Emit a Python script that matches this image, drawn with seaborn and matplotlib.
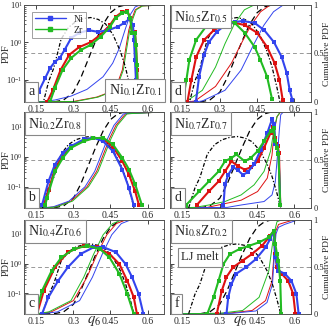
import matplotlib
matplotlib.use("Agg")
import matplotlib.pyplot as plt
import seaborn as sns
from matplotlib.lines import Line2D
from matplotlib.ticker import FixedLocator, FixedFormatter, MultipleLocator, LogLocator, NullFormatter

sns.set_style("ticks")
plt.rcParams['font.family'] = ['Liberation Serif', 'DejaVu Serif']
plt.rcParams['mathtext.fontset'] = 'stix'

BLUE = '#3344ee'
GREEN = '#22bb22'
RED = '#dd1111'

# LJ melt reference (same in every panel)
lj_q = [0.175, 0.2, 0.22, 0.25, 0.28, 0.31, 0.34, 0.37, 0.4, 0.43, 0.46, 0.49, 0.51, 0.53, 0.545]
lj_pdf = [0.02, 0.09, 0.2, 1.2, 2.5, 3.6, 4.3, 4.6, 4.1, 3.1, 1.6, 0.57, 0.22, 0.06, 0.02]
lj_cq = [0.1, 0.22, 0.26, 0.3, 0.33, 0.36, 0.39, 0.42, 0.45, 0.48, 0.51, 0.67]
lj_cdf = [0, 0, 0.02, 0.1, 0.25, 0.44, 0.63, 0.8, 0.92, 0.98, 1.0, 1.0]

# panel a
a_ni_q = [0.139, 0.159, 0.186, 0.205, 0.225, 0.245, 0.264, 0.291, 0.323, 0.362, 0.40, 0.44, 0.479, 0.506, 0.526, 0.541, 0.545, 0.549, 0.553, 0.557]
a_ni_pdf = [0.025, 0.047, 0.11, 0.2, 0.3, 0.38, 0.62, 1.3, 1.78, 2.1, 1.9, 2.1, 2.6, 3.3, 4.2, 2.9, 1.15, 0.34, 0.098, 0.028]
a_zr_q = [0.205, 0.225, 0.256, 0.291, 0.33, 0.37, 0.41, 0.448, 0.471, 0.498, 0.518, 0.530, 0.537, 0.549, 0.553, 0.557, 0.561]
a_zr_pdf = [0.025, 0.059, 0.18, 0.38, 0.62, 0.85, 1.4, 2.6, 4.5, 6.1, 6.5, 4.5, 1.8, 1.8, 0.85, 0.25, 0.028]
a_tot_q = [0.194, 0.217, 0.248, 0.283, 0.323, 0.37, 0.41, 0.448, 0.471, 0.498, 0.518, 0.530, 0.537, 0.549, 0.553, 0.558, 0.562]
a_tot_pdf = [0.025, 0.052, 0.18, 0.46, 0.74, 1.0, 1.6, 2.9, 4.8, 6.5, 6.9, 4.5, 1.8, 1.9, 0.85, 0.18, 0.028]
a_ni_cq = [0.1, 0.18, 0.225, 0.29, 0.355, 0.42, 0.459, 0.485, 0.511, 0.53, 0.55, 0.57, 0.67]
a_ni_cdf = [0, 0.005, 0.02, 0.06, 0.13, 0.26, 0.4, 0.55, 0.76, 0.9, 0.98, 1.0, 1.0]
a_tot_cq = [0.1, 0.3, 0.394, 0.446, 0.478, 0.498, 0.511, 0.524, 0.537, 0.55, 0.576, 0.67]
a_tot_cdf = [0, 0.005, 0.05, 0.1, 0.19, 0.33, 0.54, 0.74, 0.86, 0.95, 0.99, 1.0]
a_zr_cq = [0.1, 0.31, 0.4, 0.45, 0.482, 0.502, 0.515, 0.528, 0.541, 0.554, 0.58, 0.67]
a_zr_cdf = [0, 0.005, 0.05, 0.1, 0.19, 0.33, 0.54, 0.74, 0.86, 0.95, 0.99, 1.0]

# panel d (top right)
d1_ni_q = [0.204, 0.217, 0.237, 0.256, 0.288, 0.322, 0.36, 0.393, 0.44, 0.479, 0.518, 0.549, 0.569, 0.581, 0.592]
d1_ni_pdf = [0.025, 0.12, 0.46, 1.0, 1.9, 2.9, 3.5, 3.7, 3.3, 2.1, 1.0, 0.4, 0.15, 0.052, 0.028]
d1_zr_q = [0.151, 0.166, 0.178, 0.205, 0.244, 0.288, 0.322, 0.36, 0.4, 0.44, 0.463, 0.49, 0.51]
d1_zr_pdf = [0.025, 0.098, 0.34, 1.15, 2.6, 3.7, 4.2, 3.3, 1.8, 0.75, 0.34, 0.12, 0.03]
d1_tot_q = [0.17, 0.186, 0.205, 0.237, 0.276, 0.322, 0.36, 0.4, 0.45, 0.49, 0.52, 0.54, 0.553]
d1_tot_pdf = [0.025, 0.098, 0.4, 1.15, 2.1, 3.1, 3.3, 2.9, 1.8, 0.75, 0.28, 0.098, 0.028]
d1_ni_cq = [0.1, 0.2, 0.23, 0.321, 0.386, 0.438, 0.477, 0.516, 0.555, 0.67]
d1_ni_cdf = [0, 0, 0.01, 0.12, 0.33, 0.6, 0.79, 0.93, 1.0, 1.0]
d1_zr_cq = [0.1, 0.15, 0.165, 0.23, 0.283, 0.321, 0.36, 0.399, 0.438, 0.67]
d1_zr_cdf = [0, 0, 0.005, 0.12, 0.36, 0.6, 0.81, 0.95, 1.0, 1.0]
d1_tot_cq = [0.1, 0.17, 0.2, 0.283, 0.347, 0.386, 0.425, 0.464, 0.503, 0.67]
d1_tot_cdf = [0, 0, 0.01, 0.16, 0.4, 0.6, 0.79, 0.93, 1.0, 1.0]

# panel b
b_ni_q = [0.173, 0.199, 0.225, 0.257, 0.29, 0.342, 0.381, 0.42, 0.46, 0.498, 0.525, 0.544]
b_ni_pdf = [0.025, 0.15, 0.54, 1.3, 2.2, 3.7, 4.2, 3.2, 1.5, 0.37, 0.09, 0.025]
b_zr_q = [0.186, 0.193, 0.225, 0.257, 0.29, 0.342, 0.381, 0.42, 0.46, 0.498, 0.525, 0.55, 0.577]
b_zr_pdf = [0.025, 0.042, 0.32, 0.9, 1.95, 3.2, 4.0, 4.2, 2.5, 0.9, 0.37, 0.12, 0.025]
b_tot_q = [0.18, 0.2, 0.225, 0.257, 0.29, 0.342, 0.381, 0.42, 0.46, 0.498, 0.525, 0.55, 0.565]
b_tot_pdf = [0.025, 0.08, 0.4, 1.05, 2.0, 3.4, 4.1, 3.9, 2.1, 0.7, 0.25, 0.07, 0.025]
b_ni_cq = [0.1, 0.17, 0.217, 0.282, 0.347, 0.386, 0.412, 0.438, 0.464, 0.503, 0.67]
b_ni_cdf = [0, 0, 0.01, 0.07, 0.22, 0.38, 0.55, 0.72, 0.86, 0.98, 1.0]
b_tot_cq = [0.1, 0.18, 0.225, 0.29, 0.355, 0.394, 0.42, 0.446, 0.472, 0.511, 0.67]
b_tot_cdf = [0, 0, 0.01, 0.07, 0.22, 0.38, 0.55, 0.72, 0.86, 0.98, 1.0]
b_zr_cq = [0.1, 0.19, 0.231, 0.296, 0.361, 0.4, 0.426, 0.452, 0.478, 0.517, 0.67]
b_zr_cdf = [0, 0, 0.01, 0.07, 0.22, 0.38, 0.55, 0.72, 0.86, 0.98, 1.0]

# panel d (middle right)
d2_ni_q = [0.315, 0.321, 0.334, 0.354, 0.373, 0.393, 0.412, 0.438, 0.465, 0.491, 0.51, 0.519, 0.523, 0.53, 0.536, 0.543]
d2_ni_pdf = [0.025, 0.12, 0.25, 0.45, 0.35, 0.25, 0.3, 0.55, 1.7, 6.0, 17, 12, 2.5, 2.2, 1.3, 0.025]
d2_zr_q = [0.165, 0.217, 0.256, 0.295, 0.321, 0.347, 0.367, 0.4, 0.425, 0.452, 0.478, 0.504, 0.517, 0.523, 0.532, 0.536, 0.543]
d2_zr_pdf = [0.025, 0.07, 0.15, 0.32, 0.7, 0.9, 1.17, 0.7, 0.9, 1.5, 3.2, 6.9, 9.0, 3.2, 1.95, 1.2, 0.025]
d2_tot_q = [0.208, 0.256, 0.295, 0.321, 0.347, 0.373, 0.4, 0.425, 0.452, 0.478, 0.504, 0.512, 0.52, 0.528, 0.533, 0.538, 0.543]
d2_tot_pdf = [0.025, 0.07, 0.15, 0.32, 0.7, 0.48, 0.37, 0.44, 0.7, 1.95, 6.0, 9.5, 4.0, 2.5, 2.2, 1.3, 0.025]
d2_ni_cq = [0.1, 0.33, 0.386, 0.478, 0.51, 0.523, 0.532, 0.539, 0.545, 0.556, 0.67]
d2_ni_cdf = [0, 0.005, 0.03, 0.066, 0.135, 0.27, 0.55, 0.8, 0.97, 1.0, 1.0]
d2_zr_cq = [0.1, 0.2, 0.256, 0.321, 0.386, 0.438, 0.478, 0.504, 0.517, 0.53, 0.543, 0.67]
d2_zr_cdf = [0, 0.005, 0.03, 0.066, 0.135, 0.24, 0.38, 0.59, 0.8, 0.95, 1.0, 1.0]
d2_tot_cq = [0.1, 0.25, 0.295, 0.386, 0.452, 0.491, 0.51, 0.519, 0.53, 0.545, 0.67]
d2_tot_cdf = [0, 0.005, 0.03, 0.08, 0.17, 0.31, 0.55, 0.8, 0.95, 1.0, 1.0]

# panel c
c_ni_q = [0.173, 0.199, 0.238, 0.277, 0.329, 0.381, 0.42, 0.472, 0.511, 0.537, 0.564, 0.583]
c_ni_pdf = [0.02, 0.073, 0.26, 0.74, 2.1, 3.5, 3.6, 2.4, 0.96, 0.35, 0.094, 0.02]
c_zr_q = [0.147, 0.173, 0.212, 0.251, 0.303, 0.355, 0.407, 0.446, 0.486, 0.518, 0.544]
c_zr_pdf = [0.02, 0.12, 0.57, 1.6, 3.1, 4.0, 3.1, 1.6, 0.45, 0.094, 0.02]
c_tot_q = [0.153, 0.18, 0.225, 0.277, 0.342, 0.394, 0.446, 0.486, 0.518, 0.544, 0.557]
c_tot_pdf = [0.02, 0.12, 0.74, 2.4, 4.0, 3.5, 2.1, 0.96, 0.26, 0.073, 0.02]
c_ni_cq = [0.1, 0.17, 0.235, 0.325, 0.377, 0.416, 0.455, 0.494, 0.533, 0.67]
c_ni_cdf = [0, 0, 0.02, 0.14, 0.39, 0.63, 0.84, 0.96, 1.0, 1.0]
c_zr_cq = [0.1, 0.15, 0.2, 0.29, 0.342, 0.381, 0.42, 0.459, 0.498, 0.67]
c_zr_cdf = [0, 0, 0.02, 0.14, 0.39, 0.63, 0.84, 0.96, 1.0, 1.0]
c_tot_cq = [0.1, 0.155, 0.21, 0.3, 0.355, 0.395, 0.435, 0.474, 0.513, 0.67]
c_tot_cdf = [0, 0, 0.02, 0.14, 0.39, 0.63, 0.84, 0.96, 1.0, 1.0]

# panel f
f_ni_q = [0.327, 0.334, 0.347, 0.366, 0.405, 0.445, 0.484, 0.503, 0.517, 0.523, 0.536, 0.562, 0.588, 0.608, 0.617]
f_ni_pdf = [0.02, 0.072, 0.2, 0.45, 0.74, 1.4, 3.5, 6.8, 12.6, 1.6, 0.57, 0.45, 0.26, 0.094, 0.02]
f_zr_q = [0.25, 0.275, 0.295, 0.315, 0.341, 0.38, 0.419, 0.458, 0.497, 0.517, 0.523, 0.53, 0.536, 0.543, 0.547]
f_zr_pdf = [0.02, 0.072, 0.26, 0.96, 2.1, 3.1, 4.0, 5.2, 7.6, 12.6, 4.6, 2.1, 1.26, 0.26, 0.02]
f_tot_q = [0.288, 0.308, 0.327, 0.353, 0.392, 0.43, 0.47, 0.503, 0.517, 0.523, 0.53, 0.549, 0.575, 0.595, 0.604]
f_tot_pdf = [0.02, 0.12, 0.35, 0.74, 1.26, 2.1, 4.0, 8.7, 12.6, 2.1, 0.74, 0.45, 0.26, 0.094, 0.02]
f_ni_cq = [0.1, 0.35, 0.445, 0.49, 0.512, 0.52, 0.526, 0.536, 0.56, 0.615, 0.67]
f_ni_cdf = [0, 0.005, 0.03, 0.12, 0.32, 0.65, 0.85, 0.92, 0.95, 1.0, 1.0]
f_zr_cq = [0.1, 0.3, 0.392, 0.458, 0.497, 0.517, 0.53, 0.55, 0.67]
f_zr_cdf = [0, 0.005, 0.035, 0.175, 0.456, 0.84, 0.98, 1.0, 1.0]
f_tot_cq = [0.1, 0.33, 0.43, 0.484, 0.51, 0.52, 0.525, 0.536, 0.56, 0.6, 0.67]
f_tot_cdf = [0, 0.005, 0.035, 0.14, 0.35, 0.7, 0.88, 0.95, 0.97, 1.0, 1.0]

panels = [
    # row, col, letter, composition, pdf curves, cdf curves, ylim
    (0, 0, 'a', r'Ni$_{0.1}$Zr$_{0.1}$',
     [(a_tot_q, a_tot_pdf, RED), (a_ni_q, a_ni_pdf, BLUE), (a_zr_q, a_zr_pdf, GREEN)],
     [(a_tot_cq, a_tot_cdf, RED), (a_ni_cq, a_ni_cdf, BLUE), (a_zr_cq, a_zr_cdf, GREEN)], (0.025, 10)),
    (0, 1, 'd', r'Ni$_{0.5}$Zr$_{0.5}$',
     [(d1_tot_q, d1_tot_pdf, RED), (d1_ni_q, d1_ni_pdf, BLUE), (d1_zr_q, d1_zr_pdf, GREEN)],
     [(d1_tot_cq, d1_tot_cdf, RED), (d1_ni_cq, d1_ni_cdf, BLUE), (d1_zr_cq, d1_zr_cdf, GREEN)], (0.025, 10)),
    (1, 0, 'b', r'Ni$_{0.2}$Zr$_{0.8}$',
     [(b_tot_q, b_tot_pdf, RED), (b_ni_q, b_ni_pdf, BLUE), (b_zr_q, b_zr_pdf, GREEN)],
     [(b_tot_cq, b_tot_cdf, RED), (b_ni_cq, b_ni_cdf, BLUE), (b_zr_cq, b_zr_cdf, GREEN)], (0.02, 30)),
    (1, 1, 'd', r'Ni$_{0.7}$Zr$_{0.7}$',
     [(d2_tot_q, d2_tot_pdf, RED), (d2_ni_q, d2_ni_pdf, BLUE), (d2_zr_q, d2_zr_pdf, GREEN)],
     [(d2_tot_cq, d2_tot_cdf, RED), (d2_ni_cq, d2_ni_cdf, BLUE), (d2_zr_cq, d2_zr_cdf, GREEN)], (0.02, 30)),
    (2, 0, 'c', r'Ni$_{0.4}$Zr$_{0.6}$',
     [(c_tot_q, c_tot_pdf, RED), (c_ni_q, c_ni_pdf, BLUE), (c_zr_q, c_zr_pdf, GREEN)],
     [(c_tot_cq, c_tot_cdf, RED), (c_ni_cq, c_ni_cdf, BLUE), (c_zr_cq, c_zr_cdf, GREEN)], (0.02, 30)),
    (2, 1, 'f', r'Ni$_{0.8}$Zr$_{0.2}$',
     [(f_tot_q, f_tot_pdf, RED), (f_ni_q, f_ni_pdf, BLUE), (f_zr_q, f_zr_pdf, GREEN)],
     [(f_tot_cq, f_tot_cdf, RED), (f_ni_cq, f_ni_cdf, BLUE), (f_zr_cq, f_zr_cdf, GREEN)], (0.02, 30)),
]

fig = plt.figure(figsize=(3.32, 3.31), dpi=100)
col_left = [0.0723, 0.512]
col_width = [0.422, 0.425]
row_bottom = [0.692, 0.372, 0.052]
row_height = [0.293, 0.290, 0.284]

box = dict(boxstyle='square,pad=0.25', fc='white', ec='#888888', lw=0.8)

for row, col, letter, comp, pdfs, cdfs, ylim in panels:
    ax = fig.add_axes([col_left[col], row_bottom[row], col_width[col], row_height[row]])
    ax2 = ax.twinx()
    ax.set_yscale('log')

    # cumulative curves (right axis)
    ax2.axhline(0.5, color='#999999', ls=(0, (4, 3)), lw=0.7)
    sns.lineplot(x=lj_cq, y=lj_cdf, ax=ax2, color='black', lw=0.9, ls=(0, (5, 3)),
                 estimator=None, sort=False)
    for q, c, colr in cdfs:
        sns.lineplot(x=q, y=c, ax=ax2, color=colr, lw=0.7, estimator=None, sort=False)

    # PDF curves (left axis, log)
    sns.lineplot(x=lj_q, y=lj_pdf, ax=ax, color='black', lw=0.9, ls=(0, (3, 1.5, 1, 1.5)),
                 estimator=None, sort=False)
    for q, p, colr in pdfs:
        sns.lineplot(x=q, y=p, ax=ax, color=colr, lw=1.5, marker='s', markersize=2.3,
                     markeredgewidth=0, estimator=None, sort=False)
    # draw the PDFs above the twin axis
    ax.set_zorder(ax2.get_zorder() + 1)
    ax.patch.set_visible(False)

    ax.set_xlim(0.1, 0.667)
    ax.set_ylim(*ylim)
    ax2.set_ylim(0, 1)
    ax.xaxis.set_major_locator(FixedLocator([0.15, 0.3, 0.45, 0.6]))
    ax.xaxis.set_major_formatter(FixedFormatter(['0.15', '0.3', '0.45', '0.6']))
    ax.yaxis.set_major_locator(LogLocator(base=10, numticks=10))
    ax.yaxis.set_minor_locator(LogLocator(base=10, subs=range(2, 10), numticks=10))
    ax.yaxis.set_minor_formatter(NullFormatter())
    ax2.yaxis.set_major_locator(FixedLocator([0, 0.5, 1]))
    ax2.yaxis.set_major_formatter(FixedFormatter(['0', '0.5', '1']))
    ax2.yaxis.set_minor_locator(MultipleLocator(0.1))

    ax.tick_params(axis='both', which='both', direction='in', top=True, pad=2)
    ax.tick_params(axis='x', labelsize=7)
    ax.tick_params(axis='y', labelsize=6, pad=1)
    ax.tick_params(which='major', length=3, width=0.6)
    ax.tick_params(which='minor', length=1.5, width=0.5)
    ax2.tick_params(which='both', direction='in', labelsize=6, pad=1.5)
    ax2.tick_params(which='major', length=3, width=0.6)
    ax2.tick_params(which='minor', length=1.5, width=0.5)
    for sp in list(ax.spines.values()) + list(ax2.spines.values()):
        sp.set_linewidth(0.6)
        sp.set_color('#555555')

    ax.set_xlabel('')
    ax2.set_xlabel('')
    ax2.set_ylabel('')
    if col == 0:
        ax.set_ylabel('PDF', fontsize=7.5)
        ax.yaxis.set_label_coords(-0.095, 0.5)
        ax2.tick_params(labelright=False)
    else:
        ax.tick_params(labelleft=False)
        ax.set_ylabel('')
        ax2.set_ylabel('Cumulative PDF', fontsize=6.8)
        ax2.yaxis.set_label_coords(1.082, 0.5)
    if row == 2:
        ax.set_xlabel(r'$q_6$', fontsize=10.5, labelpad=-8)

    ax.text(0.03, 0.04, letter, transform=ax.transAxes, ha='left', va='bottom',
            fontsize=10, bbox=box, zorder=10)
    if row == 0 and col == 0:
        ax.text(0.985, 0.04, comp, transform=ax.transAxes, ha='right', va='bottom',
                fontsize=10, bbox=box, zorder=10)
        handles = [Line2D([], [], color=BLUE, lw=1.0, marker='s', markersize=2.5),
                   Line2D([], [], color=GREEN, lw=1.0, marker='s', markersize=2.5)]
        leg = ax.legend(handles, ['Ni', 'Zr'], loc='upper left', fontsize=7, frameon=True,
                        fancybox=False, edgecolor='#888888', handlelength=3.2,
                        borderpad=0.3, labelspacing=0.2, bbox_to_anchor=(0.02, 0.98))
        leg.get_frame().set_linewidth(0.7)
    else:
        ax.text(0.03, 0.96, comp, transform=ax.transAxes, ha='left', va='top',
                fontsize=10, bbox=box, zorder=10)
    if letter == 'f':
        ax.annotate('LJ melt', xy=(0.262, 1.6), xytext=(0.22, 1.6), fontsize=9,
                    ha='center', va='center', bbox=box, zorder=10,
                    arrowprops=dict(arrowstyle='-', color='black', lw=0.6))

fig.savefig('out.png', dpi=100)
